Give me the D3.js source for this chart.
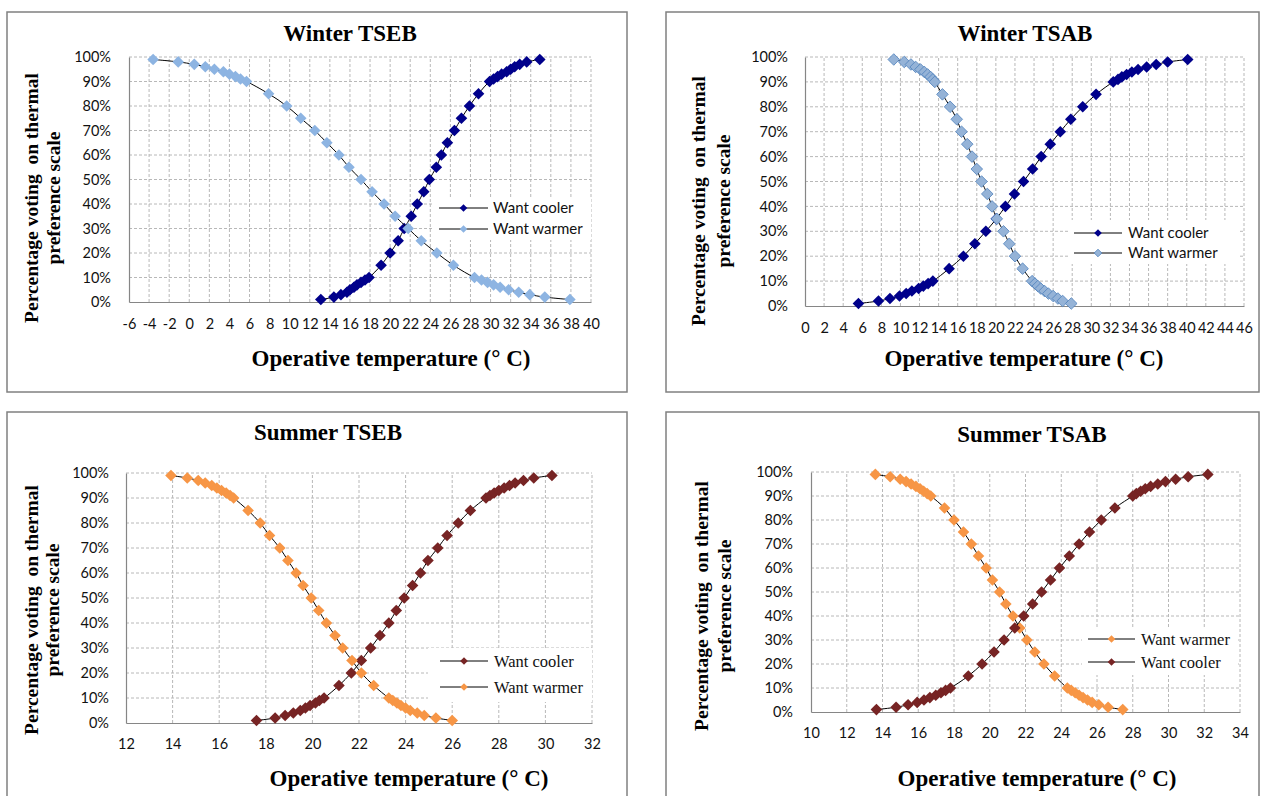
<!DOCTYPE html>
<html>
<head>
<meta charset="utf-8">
<script src="https://cdn.jsdelivr.net/npm/d3@7/dist/d3.min.js"></script>
<style>
body { margin: 0; background: #fff; }
</style>
</head>
<body>
<div id="chart"></div>
<script>
// percentage levels shared by every series (ascending)
var pctLevels = [1, 2, 3, 4, 5, 6, 7, 8, 9, 10, 15, 20, 25, 30, 35, 40, 45, 50, 55, 60,
  65, 70, 75, 80, 85, 90, 91, 92, 93, 94, 95, 96, 97, 98, 99];

// operative temperature (°C) at each percentage level
var winterTsebCooler = [13.1, 14.4, 15.1, 15.7, 16.0, 16.4, 16.7, 17.1, 17.5, 17.9, 19.1, 20.0, 20.8, 21.4,
  22.1, 22.7, 23.35, 23.9, 24.6, 25.1, 25.7, 26.4, 27.1, 27.9, 28.8, 29.9, 30.3, 30.7, 31.1, 31.6, 32.0,
  32.4, 32.9, 33.6, 34.9];
var winterTsebWarmer = [37.9, 35.4, 33.9, 32.8, 31.8, 30.95, 30.3, 29.7, 29.1, 28.4, 26.3, 24.65, 23.1, 21.8,
  20.5, 19.4, 18.2, 17.1, 15.9, 14.9, 13.7, 12.5, 11.1, 9.7, 7.9, 5.7, 5.1, 4.6, 4.0, 3.4, 2.5, 1.6, 0.5,
  -1.1, -3.6];
var winterTsabCooler = [5.6, 7.7, 8.9, 9.9, 10.6, 11.2, 11.9, 12.4, 12.9, 13.4, 15.1, 16.6, 17.8, 18.95,
  20.05, 21.0, 21.95, 22.9, 23.85, 24.75, 25.7, 26.75, 27.85, 29.1, 30.5, 32.3, 32.8, 33.2, 33.7, 34.25,
  34.9, 35.8, 36.8, 38.0, 40.1];
var winterTsabWarmer = [27.9, 27.0, 26.5, 26.0, 25.5, 25.1, 24.7, 24.4, 24.1, 23.8, 22.8, 22.0, 21.4, 20.8,
  20.1, 19.6, 19.1, 18.5, 18.0, 17.5, 17.0, 16.4, 15.9, 15.2, 14.4, 13.6, 13.4, 13.15, 12.85, 12.5, 12.1,
  11.6, 11.1, 10.4, 9.3];
var summerTsebCooler = [17.6, 18.4, 18.83, 19.18, 19.48, 19.7, 19.9, 20.13, 20.3, 20.5, 21.14, 21.67, 22.1,
  22.5, 22.9, 23.28, 23.6, 23.94, 24.3, 24.64, 24.96, 25.38, 25.78, 26.26, 26.78, 27.45, 27.62, 27.8, 28.0,
  28.23, 28.46, 28.7, 29.06, 29.5, 30.28];
var summerTsebWarmer = [26.0, 25.3, 24.8, 24.5, 24.2, 24.0, 23.8, 23.63, 23.45, 23.28, 22.63, 22.1, 21.7,
  21.3, 20.97, 20.6, 20.27, 19.95, 19.6, 19.3, 18.95, 18.6, 18.16, 17.76, 17.24, 16.62, 16.47, 16.3, 16.1,
  15.9, 15.68, 15.4, 15.1, 14.63, 13.93];
var summerTsabCooler = [13.66, 14.76, 15.43, 15.94, 16.32, 16.65, 16.98, 17.27, 17.53, 17.8, 18.8, 19.57,
  20.24, 20.8, 21.4, 21.9, 22.4, 22.9, 23.4, 23.9, 24.45, 25.0, 25.58, 26.24, 27.0, 28.0, 28.2, 28.44, 28.7,
  29.0, 29.4, 29.83, 30.4, 31.1, 32.2];
var summerTsabWarmer = [27.44, 26.62, 26.1, 25.73, 25.47, 25.22, 25.0, 24.78, 24.56, 24.34, 23.63, 23.03,
  22.52, 22.08, 21.68, 21.3, 20.9, 20.55, 20.15, 19.8, 19.37, 18.97, 18.53, 18.0, 17.47, 16.7, 16.5, 16.3,
  16.1, 15.87, 15.6, 15.32, 14.99, 14.43, 13.6];

// axis ranges / tick labels
var panelTitles = ["Winter TSEB", "Winter TSAB", "Summer TSEB", "Summer TSAB"];
var xDomains = [[-6, 40], [0, 46], [12, 32], [10, 34]];
var yTickValues = [0, 10, 20, 30, 40, 50, 60, 70, 80, 90, 100];
var xTitle = "Operative temperature (\u00b0 C)";
var yTitleLines = ["Percentage voting  on thermal", "preference scale"];

var width = 1262, height = 796;
var sans = "Lato, 'Liberation Sans', sans-serif";
var serif = "'Liberation Serif', 'Times New Roman', serif";

var svg = d3.select("#chart").append("svg")
  .attr("width", width)
  .attr("height", height)
  .style("background", "#fff");

// layout of each panel (pixel positions)
var panels = [
  { box: [7, 12, 627, 392], plot: [129, 591, 57, 302], title: [350, 33], xt: [391, 358], yt: [31, 53, 198],
    xPad: 17, yPad: 18, legend: [439, 488, 493, 208, 229], legendBox: [433, 197, 591, 240], legendFont: sans,
    series: [
      { name: "Want cooler", temps: winterTsebCooler, fill: "#00008B", stroke: "none" },
      { name: "Want warmer", temps: winterTsebWarmer, fill: "#8DB4E2", stroke: "none" }
    ] },
  { box: [666, 12, 1259, 392], plot: [805, 1244, 57, 306], title: [1025, 33], xt: [1024, 358], yt: [698, 723, 201],
    xPad: 17, yPad: 17, legend: [1074, 1122, 1128, 233, 253], legendBox: [1068, 220, 1240, 264], legendFont: sans,
    series: [
      { name: "Want cooler", temps: winterTsabCooler, fill: "#00008B", stroke: "none" },
      { name: "Want warmer", temps: winterTsabWarmer, fill: "#95B3D7", stroke: "#4F81BD" }
    ] },
  { box: [7, 412, 627, 800], plot: [126, 592, 473, 723], title: [328, 432], xt: [409, 778], yt: [31, 52, 610],
    xPad: 16, yPad: 17, legend: [440, 488, 494, 661, 687], legendBox: [428, 648, 592, 702], legendFont: serif,
    series: [
      { name: "Want cooler", temps: summerTsebCooler, fill: "#772424", stroke: "none" },
      { name: "Want warmer", temps: summerTsebWarmer, fill: "#F79646", stroke: "none" }
    ] },
  { box: [666, 412, 1259, 800], plot: [811, 1240, 472, 712], title: [1032, 434], xt: [1037, 778], yt: [701, 724, 606],
    xPad: 16, yPad: 18, legend: [1088, 1135, 1141, 639, 662], legendBox: [1082, 628, 1238, 675], legendFont: serif,
    series: [
      { name: "Want warmer", temps: summerTsabWarmer, fill: "#F79646", stroke: "none" },
      { name: "Want cooler", temps: summerTsabCooler, fill: "#772424", stroke: "none" }
    ] }
];

function diamond(r) {
  return "M0," + (-r) + "L" + r + ",0L0," + r + "L" + (-r) + ",0Z";
}

panels.forEach(function(p, i) {
  var g = svg.append("g");

  // outer frame
  g.append("rect")
    .attr("x", p.box[0]).attr("y", p.box[1])
    .attr("width", p.box[2] - p.box[0]).attr("height", p.box[3] - p.box[1])
    .attr("fill", "#fff").attr("stroke", "#808080").attr("stroke-width", 1.5);

  var x = d3.scaleLinear().domain(xDomains[i]).range([p.plot[0], p.plot[1]]);
  var y = d3.scaleLinear().domain([0, 100]).range([p.plot[3], p.plot[2]]);
  var xTicks = d3.range(xDomains[i][0], xDomains[i][1] + 1, 2);

  // dashed grid
  g.append("g").selectAll("line.vg")
    .data(xTicks.slice(1))
    .join("line")
    .attr("x1", function(d) { return x(d); }).attr("x2", function(d) { return x(d); })
    .attr("y1", y(0)).attr("y2", y(100))
    .attr("stroke", "#b8b8b8").attr("stroke-dasharray", "3,2").attr("stroke-width", 1);
  g.append("g").selectAll("line.hg")
    .data(yTickValues.slice(1))
    .join("line")
    .attr("x1", x.range()[0]).attr("x2", x.range()[1])
    .attr("y1", function(d) { return y(d); }).attr("y2", function(d) { return y(d); })
    .attr("stroke", "#b8b8b8").attr("stroke-dasharray", "3,2").attr("stroke-width", 1);

  // axes
  var xAxis = g.append("g")
    .attr("transform", "translate(0," + y(0) + ")")
    .call(d3.axisBottom(x).tickValues(xTicks).tickFormat(function(d) { return String(d); })
      .tickSize(0).tickSizeOuter(0).tickPadding(p.xPad));
  var yAxis = g.append("g")
    .attr("transform", "translate(" + x.range()[0] + ",0)")
    .call(d3.axisLeft(y).tickValues(yTickValues).tickFormat(function(d) { return d + "%"; })
      .tickSize(0).tickSizeOuter(0).tickPadding(p.yPad));
  [xAxis, yAxis].forEach(function(a) {
    a.select(".domain").attr("stroke", "#868686").attr("stroke-width", 1.2);
    a.selectAll("text").attr("font-family", sans).attr("font-size", 14.5).attr("fill", "#111");
  });

  // legend background
  g.append("rect")
    .attr("x", p.legendBox[0]).attr("y", p.legendBox[1])
    .attr("width", p.legendBox[2] - p.legendBox[0]).attr("height", p.legendBox[3] - p.legendBox[1])
    .attr("fill", "#fff");

  // series
  var line = d3.line()
    .x(function(d) { return x(d.t); })
    .y(function(d) { return y(d.p); })
    .curve(d3.curveCatmullRom.alpha(0.5));

  p.series.forEach(function(s) {
    var pts = s.temps.map(function(t, k) { return { t: t, p: pctLevels[k] }; });
    pts.sort(function(a, b) { return a.t - b.t; });
    g.append("path")
      .datum(pts)
      .attr("d", line)
      .attr("fill", "none").attr("stroke", "#000").attr("stroke-width", 1);
    g.append("g").selectAll("path")
      .data(pts)
      .join("path")
      .attr("d", diamond(5.8))
      .attr("transform", function(d) { return "translate(" + x(d.t) + "," + y(d.p) + ")"; })
      .attr("fill", s.fill)
      .attr("stroke", s.stroke).attr("stroke-width", 0.8);
  });

  // legend
  p.series.forEach(function(s, k) {
    var ly = p.legend[3 + k];
    g.append("line")
      .attr("x1", p.legend[0]).attr("x2", p.legend[1])
      .attr("y1", ly).attr("y2", ly)
      .attr("stroke", "#000").attr("stroke-width", 1);
    g.append("path")
      .attr("d", diamond(3.8))
      .attr("transform", "translate(" + ((p.legend[0] + p.legend[1]) / 2) + "," + ly + ")")
      .attr("fill", s.fill).attr("stroke", s.stroke).attr("stroke-width", 0.8);
    g.append("text")
      .attr("x", p.legend[2]).attr("y", ly)
      .attr("dy", "0.35em")
      .attr("font-family", p.legendFont)
      .attr("font-size", p.legendFont === serif ? 16.5 : 15)
      .attr("fill", "#111")
      .text(s.name);
  });

  // titles
  g.append("text")
    .attr("x", p.title[0]).attr("y", p.title[1])
    .attr("dy", "0.35em")
    .attr("text-anchor", "middle")
    .attr("font-family", serif).attr("font-weight", "bold").attr("font-size", 23)
    .text(panelTitles[i]);

  g.append("text")
    .attr("x", p.xt[0]).attr("y", p.xt[1])
    .attr("dy", "0.35em")
    .attr("text-anchor", "middle")
    .attr("font-family", serif).attr("font-weight", "bold").attr("font-size", 23)
    .text(xTitle);

  yTitleLines.forEach(function(txt, k) {
    g.append("text")
      .attr("transform", "translate(" + p.yt[k] + "," + p.yt[2] + ") rotate(-90)")
      .attr("dy", "0.35em")
      .attr("text-anchor", "middle")
      .attr("font-family", serif).attr("font-weight", "bold").attr("font-size", 19.5)
      .style("white-space", "pre")
      .text(txt);
  });
});
</script>
</body>
</html>
